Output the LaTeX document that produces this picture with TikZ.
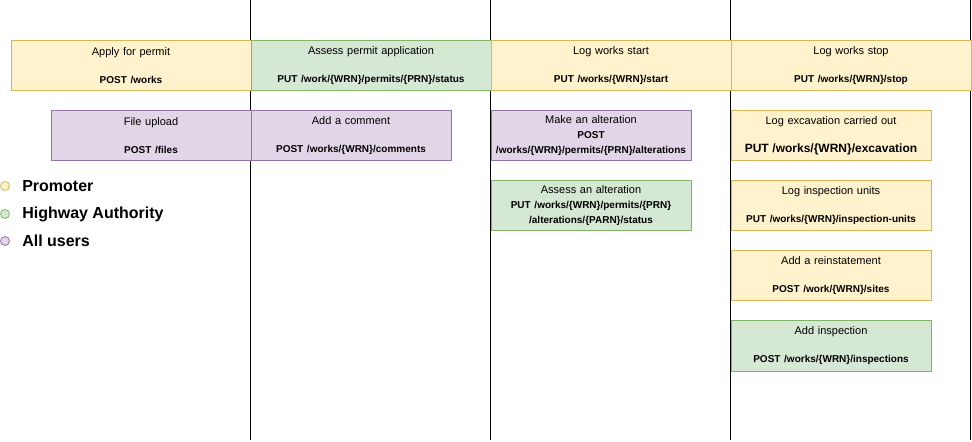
\documentclass[tikz,border=0pt]{standalone}
\usepackage{fontspec}
\setmainfont{Liberation Sans}
\definecolor{yfill}{HTML}{FFF2CC}\definecolor{ydraw}{HTML}{D6B656}
\definecolor{gfill}{HTML}{D5E8D4}\definecolor{gdraw}{HTML}{82B366}
\definecolor{pfill}{HTML}{E1D5E7}\definecolor{pdraw}{HTML}{9673A6}
\newcommand{\api}[1]{{\fontsize{7.5}{10.5}\selectfont\bfseries #1}}
\tikzset{
  box/.style={rectangle, anchor=north west, inner sep=0pt, align=center,
    font=\fontsize{8.25}{10.5}\selectfont, line width=0.75pt, text width=#1*0.75pt-2pt},
  wide/.style={box=240, minimum width=180pt, minimum height=37.5pt},
  narrow/.style={box=200, minimum width=150pt, minimum height=37.5pt},
  yel/.style={fill=yfill, draw=ydraw},
  grn/.style={fill=gfill, draw=gdraw},
  pur/.style={fill=pfill, draw=pdraw},
  lane/.style={draw=black, line width=0.75pt},
  dot/.style={circle, minimum size=6.75pt, inner sep=0pt, line width=0.6pt},
  legend/.style={anchor=west, inner sep=0pt, font=\fontsize{12}{14}\selectfont\bfseries},
  threeline/.style={font=\fontsize{8.25}{11.25}\selectfont},
}
\begin{document}
\begin{tikzpicture}[x=0.75pt, y=-0.75pt]
\useasboundingbox (0,0) rectangle (972,442);
% lane lines
\foreach \i/\x in {1/250.5, 2/490.5, 3/730.5, 4/970.5} {
  \coordinate (t\i) at (\x,0);
  \coordinate (b\i) at (\x,440);
  \draw[lane] (t\i) -- (b\i);
}
% top row
\node[wide, yel] (apply) at (10.5,40.5) {Apply for permit\\[10.5pt]\api{POST /works}};
\node[wide, grn] (assess) at (250.5,40.5) {Assess permit application\\[10.5pt]\api{PUT /work/\{WRN\}/permits/\{PRN\}/status}};
\node[wide, yel] (start) at (490.5,40.5) {Log works start\\[10.5pt]\api{PUT /works/\{WRN\}/start}};
\node[wide, yel] (stop) at (730.5,40.5) {Log works stop\\[10.5pt]\api{PUT /works/\{WRN\}/stop}};
% second row
\node[narrow, pur] (upload) at (50.5,110.5) {File upload\\[10.5pt]\api{POST /files}};
\node[narrow, pur] (comment) at (250.5,110.5) {Add a comment\\[10.5pt]\api{POST /works/\{WRN\}/comments}};
\node[narrow, pur, threeline] (alter) at (490.5,110.5) {Make an alteration\\\api{POST}\\\api{/works/\{WRN\}/permits/\{PRN\}/alterations}};
\node[narrow, yel] (excav) at (730.5,110.5) {Log excavation carried out\\[10.5pt]{\fontsize{9}{11}\selectfont\bfseries PUT /works/\{WRN\}/excavation}};
% third row
\node[narrow, grn, threeline] (assessalt) at (490.5,180.5) {Assess an alteration\\\api{PUT /works/\{WRN\}/permits/\{PRN\}}\\\api{/alterations/\{PARN\}/status}};
\node[narrow, yel] (units) at (730.5,180.5) {Log inspection units\\[10.5pt]\api{PUT /works/\{WRN\}/inspection-units}};
% fourth/fifth rows
\node[narrow, yel] (reinst) at (730.5,250.5) {Add a reinstatement\\[10.5pt]\api{POST /work/\{WRN\}/sites}};
\node[narrow, grn] (insp) at (730.5,320.5) {Add inspection\\[10.5pt]\api{POST /works/\{WRN\}/inspections}};
% legend
\node[dot, fill=yfill, draw=ydraw] (d1) at (5,186) {};
\node[dot, fill=gfill, draw=gdraw] (d2) at (5,214) {};
\node[dot, fill=pfill, draw=pdraw] (d3) at (5,241) {};
\node[legend] (l1) at (22,186) {Promoter};
\node[legend] (l2) at (22,214) {Highway Authority};
\node[legend] (l3) at (22,241) {All users};
\end{tikzpicture}
\end{document}
